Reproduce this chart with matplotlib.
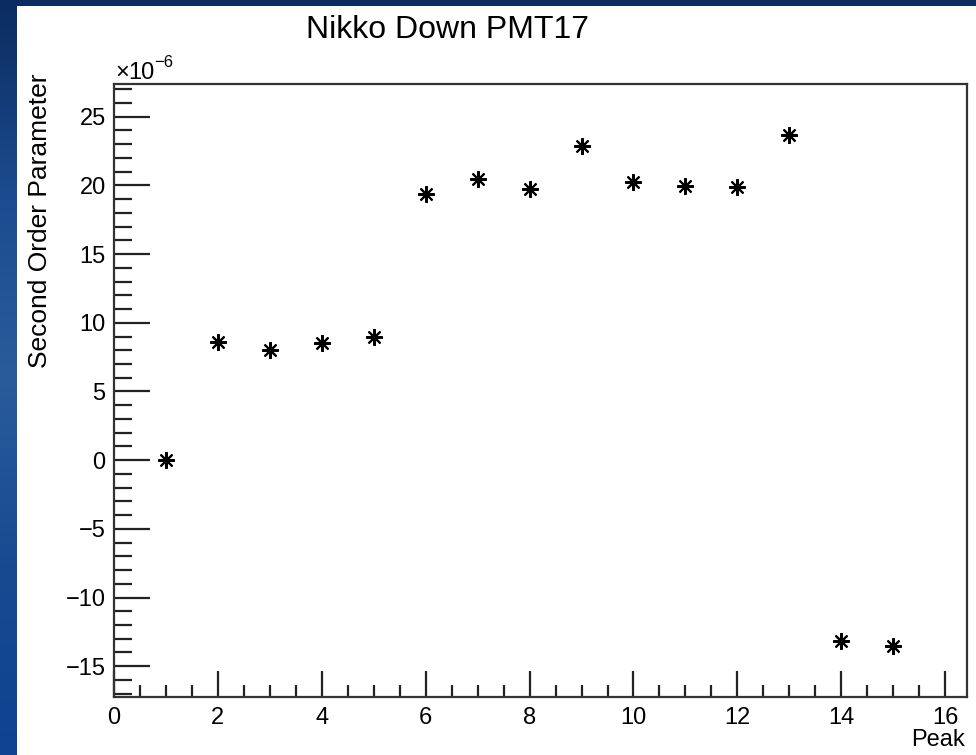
import numpy as np
import matplotlib.pyplot as plt
from matplotlib.patches import Rectangle
from matplotlib.ticker import MultipleLocator
from matplotlib.colors import LinearSegmentedColormap

plt.rcParams['font.family'] = ['Liberation Sans', 'DejaVu Sans']

# peak number vs. fitted second order parameter (units of 1e-6)
peaks = [1, 2, 3, 4, 5, 6, 7, 8, 9, 10, 11, 12, 13, 14, 15]
second_order = [0.0, 8.6, 8.05, 8.55, 9.0, 19.4, 20.45, 19.75, 22.85,
                20.25, 19.95, 19.85, 23.7, -13.2, -13.55]

W, H = 976, 755
fig = plt.figure(figsize=(W / 100, H / 100), dpi=100)

# slide background: blue gradient behind a white canvas
bg = fig.add_axes([0, 0, 1, 1], zorder=-10)
bg.set_axis_off()
grad = np.linspace(0, 1, 256).reshape(-1, 1)
cmap = LinearSegmentedColormap.from_list(
    'slide', ['#0b2c5e', '#1b4b8e', '#2a5c9c', '#174a90', '#0f4391'])
bg.imshow(grad, aspect='auto', cmap=cmap, extent=[0, 1, 0, 1])
bg.add_patch(Rectangle((17 / W, 0), 1 - 17 / W, 1 - 6 / H,
                       facecolor='white', edgecolor='none'))
bg.set_xlim(0, 1)
bg.set_ylim(0, 1)

left, right, top, bottom = 114, 967, 84, 697
ax = fig.add_axes([left / W, 1 - bottom / H, (right - left) / W, (bottom - top) / H])

ax.plot(peaks, second_order, linestyle='none', marker=(8, 2, 0),
        markersize=12, markeredgewidth=1.5, color='black')

ax.set_xlim(0, 16.42)
ax.set_ylim(-17.24, 27.38)

ax.xaxis.set_major_locator(MultipleLocator(2))
ax.xaxis.set_minor_locator(MultipleLocator(0.5))
ax.yaxis.set_major_locator(MultipleLocator(5))
ax.yaxis.set_minor_locator(MultipleLocator(1))

ax.tick_params(which='both', direction='in', top=False, right=False,
               width=1.6, colors='#222222', labelcolor='black', labelsize=17)
ax.tick_params(axis='y', which='major', length=26, pad=6)
ax.tick_params(axis='y', which='minor', length=13)
ax.tick_params(axis='x', which='major', length=19, pad=7)
ax.tick_params(axis='x', which='minor', length=9)
ax.set_yticklabels([f'{int(v)}' if v >= 0 else f'\u2212{int(-v)}'
                    for v in ax.get_yticks()])
for s in ax.spines.values():
    s.set_linewidth(1.6)
    s.set_color('#333333')

fig.text(448 / W, 1 - 30 / H, 'Nikko Down PMT17', ha='center', va='center',
         fontsize=23)
# axis exponent label above the y axis
fig.text(115 / W, 1 - 79 / H, '\u00d7', ha='left', va='baseline',
         fontsize=17)
fig.text(128 / W, 1 - 79 / H, '10', ha='left', va='baseline',
         fontsize=17)
fig.text(154 / W, 1 - 67 / H, '\u22126', ha='left', va='baseline',
         fontsize=12)
fig.text(40 / W, 1 - 73 / H, 'Second Order Parameter', rotation=90,
         ha='center', va='top', fontsize=19)
fig.text(965 / W, 1 - 740 / H, 'Peak', ha='right', va='center', fontsize=17)

fig.savefig('out.png', dpi=100)
